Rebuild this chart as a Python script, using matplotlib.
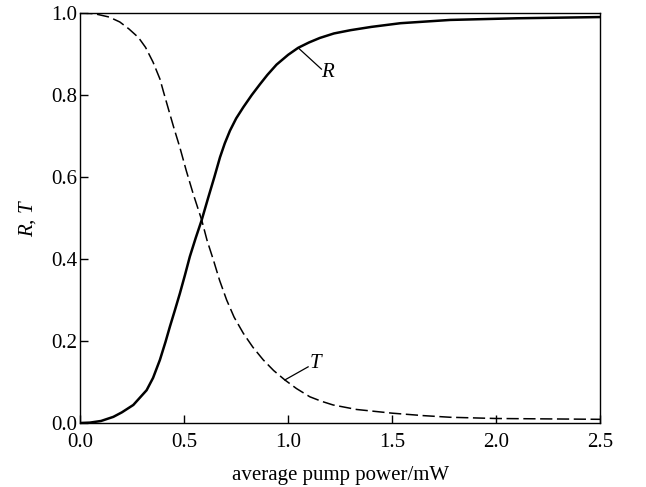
import matplotlib.pyplot as plt

plt.rcParams['font.family'] = ['Liberation Serif', 'DejaVu Serif']
plt.rcParams['mathtext.fontset'] = 'custom'
plt.rcParams['mathtext.it'] = 'Liberation Serif:italic'
plt.rcParams['mathtext.rm'] = 'Liberation Serif'

# R curve (solid)
r_power = [0.0, 0.047, 0.1, 0.159, 0.2, 0.255, 0.319, 0.35, 0.383, 0.41, 0.431, 0.455, 0.479,
           0.503, 0.527, 0.555, 0.584, 0.615, 0.645, 0.672, 0.695, 0.72, 0.75, 0.784, 0.825,
           0.864, 0.9, 0.944, 1.0, 1.048, 1.1, 1.152, 1.22, 1.3, 1.4, 1.54, 1.78, 2.1, 2.5]
r_vals = [0.0, 0.001, 0.005, 0.015, 0.026, 0.044, 0.080, 0.11, 0.154, 0.198, 0.235, 0.275, 0.316,
          0.36, 0.406, 0.451, 0.495, 0.549, 0.60, 0.648, 0.682, 0.713, 0.743, 0.77, 0.80,
          0.826, 0.849, 0.874, 0.898, 0.915, 0.928, 0.939, 0.95, 0.958, 0.966, 0.975, 0.983, 0.987, 0.99]

# T curve (dashed)
t_power = [0.0, 0.07, 0.139, 0.19, 0.234, 0.28, 0.314, 0.35, 0.383, 0.40, 0.426, 0.45, 0.479,
           0.51, 0.543, 0.584, 0.61, 0.64, 0.67, 0.704, 0.74, 0.784, 0.83, 0.88, 0.93, 0.984,
           1.04, 1.104, 1.16, 1.216, 1.329, 1.5, 1.65, 1.78, 2.0, 2.25, 2.5]
t_vals = [1.0, 0.998, 0.99, 0.978, 0.961, 0.94, 0.916, 0.88, 0.839, 0.808, 0.762, 0.72, 0.672,
          0.615, 0.559, 0.495, 0.445, 0.398, 0.348, 0.3, 0.258, 0.219, 0.185, 0.154, 0.128, 0.105,
          0.084, 0.064, 0.053, 0.044, 0.033, 0.024, 0.018, 0.014, 0.011, 0.010, 0.009]

xticks = [0.0, 0.5, 1.0, 1.5, 2.0, 2.5]
yticks = [0.0, 0.2, 0.4, 0.6, 0.8, 1.0]

fig = plt.figure(figsize=(6.46, 4.87), dpi=100)
ax = fig.add_axes([0.1243, 0.1314, 0.8045, 0.842])

ax.plot(r_power, r_vals, color='black', lw=1.8, solid_joinstyle='round')
ax.plot(t_power, t_vals, color='black', lw=1.1, dashes=(8, 3))

# curve labels with leader lines
ax.plot([1.048, 1.16], [0.915, 0.863], color='black', lw=0.9)
ax.text(1.16, 0.855, '$R$', fontsize=15, ha='left', va='center')
ax.plot([0.984, 1.096], [0.105, 0.137], color='black', lw=0.9)
ax.text(1.10, 0.144, '$T$', fontsize=15, ha='left', va='center')

ax.set_xlim(0, 2.5)
ax.set_ylim(0, 1.0)
ax.set_xticks(xticks)
ax.set_yticks(yticks)
ax.set_xticklabels([f'{v:.1f}' for v in xticks])
ax.set_yticklabels([f'{v:.1f}' for v in yticks])
ax.tick_params(direction='in', length=6, width=1, labelsize=15, top=False, right=False)
ax.tick_params(axis='y', pad=2)
ax.tick_params(axis='x', pad=7)
for s in ax.spines.values():
    s.set_linewidth(1.0)

ax.set_xlabel('average pump power/mW', fontsize=15, labelpad=10)
ax.set_ylabel('$R$, $T$', fontsize=15, labelpad=10)

fig.savefig('out.png', dpi=100)
